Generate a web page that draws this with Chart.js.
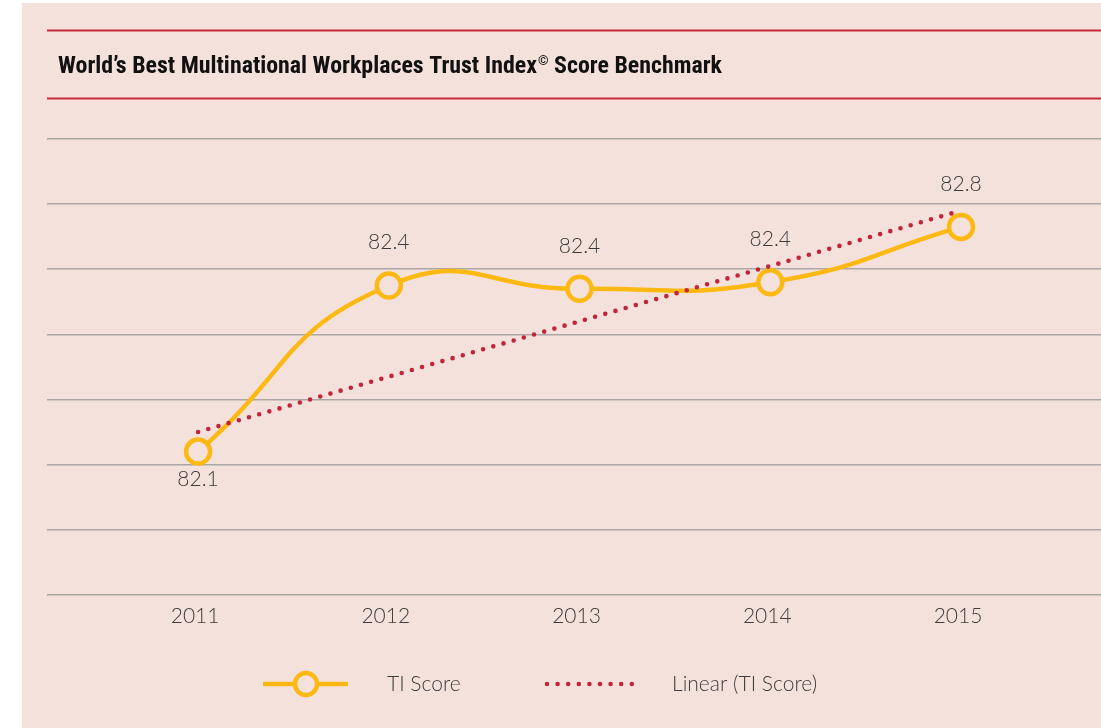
<!DOCTYPE html>
<html><head><meta charset="utf-8">
<script src="https://cdn.jsdelivr.net/npm/chart.js@4.4.1/dist/chart.umd.min.js"></script>
<style>
html,body{margin:0;padding:0;background:#fff;width:1101px;height:728px;overflow:hidden}
#bg{position:absolute;left:22px;top:3px;width:1079px;height:725px;background:#f4e1dc}
#wrap{position:absolute;left:0;top:0;width:1101px;height:728px}
</style></head><body>
<div id="bg"></div>
<div id="wrap"><canvas id="c" width="1101" height="728"></canvas></div>
<script>
// ---- data ----
const titleParts = ['World\u2019s Best Multinational Workplaces Trust Index', '\u00A9', ' Score Benchmark'];
const years = [2011, 2012, 2013, 2014, 2015];
const tiScore = [82.04, 82.55, 82.54, 82.56, 82.73];
const tiScoreLabels = ['82.1', '82.4', '82.4', '82.4', '82.8'];
const labelPlacement = ['below', 'above', 'above', 'above', 'above'];
const trendYears = [2011, 2015];
const trendValues = [82.10, 82.78];
const yTicks = [81.6, 81.8, 82.0, 82.2, 82.4, 82.6, 82.8, 83.0];
const seriesNames = ['TI Score', 'Linear (TI Score)'];

// ---- style ----
const BG = '#f4e1dc';
const ORANGE = '#fdb913';
const RED = '#c1253a';
const RULE = '#c8283c';
const GRID = '#aba7a5';
const TEXT = '#3d3b3b';
const LIGHT_FONT = '"Lato", "Roboto", "Liberation Sans", sans-serif';
const TITLE_FONT = '"Roboto Condensed", "DejaVu Sans Condensed", "Liberation Sans", sans-serif';

const decorPlugin = {
  id: 'decor',
  beforeDraw(chart) {
    const ctx = chart.ctx;
    ctx.save();
    ctx.strokeStyle = RULE;
    ctx.lineWidth = 2;
    [30.5, 98.5].forEach(y => {
      ctx.beginPath(); ctx.moveTo(47, y); ctx.lineTo(1101, y); ctx.stroke();
    });
    const big = 'bold 23px ' + TITLE_FONT;
    const small = 'bold 13px ' + TITLE_FONT;
    ctx.font = big; const w1 = ctx.measureText(titleParts[0]).width;
    ctx.font = small; const w2 = ctx.measureText(titleParts[1]).width + 1;
    ctx.font = big; const w3 = ctx.measureText(titleParts[2]).width;
    const sx = 664 / (w1 + w2 + w3);
    ctx.translate(58, 73);
    ctx.scale(sx, 1);
    ctx.fillStyle = '#111';
    ctx.textBaseline = 'alphabetic';
    ctx.textAlign = 'left';
    ctx.font = big; ctx.fillText(titleParts[0], 0, 0);
    ctx.font = small; ctx.fillText(titleParts[1], w1 + 1, -8);
    ctx.font = big; ctx.fillText(titleParts[2], w1 + w2, 0);
    ctx.restore();
  }
};

const labelPlugin = {
  id: 'pointLabels',
  afterDatasetsDraw(chart) {
    const ctx = chart.ctx;
    const meta = chart.getDatasetMeta(0);
    ctx.save();
    ctx.font = '300 21px ' + LIGHT_FONT;
    ctx.fillStyle = TEXT;
    ctx.textAlign = 'center';
    ctx.textBaseline = 'middle';
    meta.data.forEach((pt, i) => {
      const dy = labelPlacement[i] === 'above' ? -43 : 28;
      ctx.fillText(tiScoreLabels[i], pt.x, pt.y + dy);
    });
    ctx.restore();
  }
};

const legendPlugin = {
  id: 'customLegend',
  afterDraw(chart) {
    const ctx = chart.ctx;
    const ds0 = chart.data.datasets[0], ds1 = chart.data.datasets[1];
    const y = 684;
    ctx.save();
    ctx.strokeStyle = ds0.borderColor;
    ctx.lineWidth = ds0.borderWidth;
    ctx.beginPath(); ctx.moveTo(263, y); ctx.lineTo(348, y); ctx.stroke();
    ctx.beginPath(); ctx.arc(306, y, 11, 0, Math.PI * 2);
    ctx.fillStyle = ds0.pointBackgroundColor; ctx.fill();
    ctx.lineWidth = ds0.pointBorderWidth; ctx.stroke();
    ctx.strokeStyle = ds1.borderColor;
    ctx.lineWidth = ds1.borderWidth;
    ctx.lineCap = 'round';
    ctx.setLineDash(ds1.borderDash);
    ctx.beginPath(); ctx.moveTo(547, y); ctx.lineTo(637, y); ctx.stroke();
    ctx.setLineDash([]);
    ctx.font = '300 21px ' + LIGHT_FONT;
    ctx.fillStyle = TEXT;
    ctx.textAlign = 'left';
    ctx.textBaseline = 'middle';
    ctx.fillText(seriesNames[0], 387, y);
    ctx.fillText(seriesNames[1], 672, y);
    ctx.restore();
  }
};

new Chart(document.getElementById('c'), {
  type: 'line',
  data: {
    datasets: [
      {
        label: seriesNames[0],
        data: years.map((yr, i) => ({ x: yr, y: tiScore[i] })),
        borderColor: ORANGE,
        borderWidth: 4.5,
        tension: 0.5,
        pointRadius: 12,
        pointHoverRadius: 12,
        pointBorderWidth: 4.5,
        pointBackgroundColor: BG,
        pointBorderColor: ORANGE,
        order: 1
      },
      {
        label: seriesNames[1],
        data: trendYears.map((yr, i) => ({ x: yr, y: trendValues[i] })),
        borderColor: RED,
        borderWidth: 4.6,
        borderDash: [0, 10.6],
        borderCapStyle: 'round',
        pointRadius: 0,
        tension: 0,
        order: 0
      }
    ]
  },
  options: {
    responsive: false,
    animation: false,
    events: [],
    layout: { autoPadding: false, padding: { left: 47, right: 0, top: 139, bottom: 90 } },
    plugins: { legend: { display: false }, tooltip: { enabled: false }, title: { display: false } },
    scales: {
      x: {
        type: 'linear',
        min: 2010.208,
        max: 2015.734,
        afterBuildTicks: s => { s.ticks = years.map(v => ({ value: v })); },
        grid: { display: false, drawTicks: false },
        border: { display: false },
        ticks: {
          padding: 9,
          autoSkip: false,
          maxRotation: 0,
          labelOffset: -3,
          color: TEXT,
          font: { family: LIGHT_FONT, size: 21, weight: '300' },
          callback: v => String(v)
        }
      },
      y: {
        min: yTicks[0],
        max: yTicks[yTicks.length - 1],
        afterBuildTicks: s => { s.ticks = yTicks.map(v => ({ value: v })); },
        grid: { color: GRID, lineWidth: 1.5, drawTicks: false },
        border: { display: false },
        ticks: { display: false }
      }
    }
  },
  plugins: [decorPlugin, labelPlugin, legendPlugin]
});
</script>
</body></html>
